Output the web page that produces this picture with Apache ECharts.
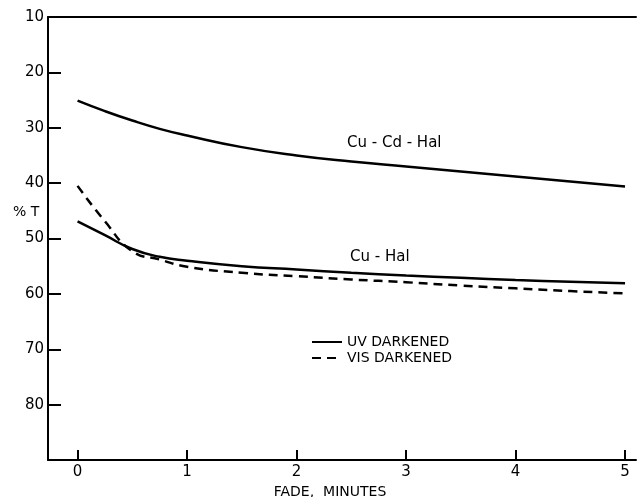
<!DOCTYPE html>
<html>
<head>
<meta charset="utf-8">
<script src="https://cdn.jsdelivr.net/npm/echarts@6/dist/echarts.min.js"></script>
<style>html,body{margin:0;padding:0;background:#fff}#c{width:641px;height:497px}</style>
</head>
<body>
<div id="c"></div>
<script>
// ---- data ----
var minutes     = [0, 0.25, 0.5, 0.75, 1, 1.5, 2, 2.5, 3, 3.5, 4, 4.5, 5];
var cuCdHalUV   = [25.1, 27.0, 28.7, 30.2, 31.4, 33.5, 35.0, 36.1, 37.0, 37.9, 38.8, 39.7, 40.6];
var cuHalUV     = [46.9, 49.4, 51.9, 53.3, 54.0, 55.0, 55.6, 56.2, 56.7, 57.1, 57.5, 57.8, 58.1];
var cuHalVIS    = [40.5, 46.9, 52.3, 53.8, 55.1, 56.2, 56.8, 57.4, 57.9, 58.5, 59.0, 59.5, 59.9];
var xTicks      = [0, 1, 2, 3, 4, 5];
var yTicks      = [20, 30, 40, 50, 60, 70, 80];
var yLabels     = [10, 20, 30, 40, 50, 60, 70, 80];
var curveNames  = ['Cu - Cd - Hal', 'Cu - Hal'];
var legendNames = ['UV DARKENED', 'VIS DARKENED'];

function pairs(xs, ys) { return xs.map(function (x, i) { return [x, ys[i]]; }); }

var FONT = 'DejaVu Sans';
var chart = echarts.init(document.getElementById('c'), null, {renderer: 'canvas'});
chart.setOption({
  animation: false,
  backgroundColor: '#fff',
  grid: {left: 48, right: 5, top: 17, bottom: 37, outerBoundsMode: 'none', containLabel: false},
  legend: {
    data: legendNames,
    orient: 'vertical',
    left: 306, top: 330,
    itemWidth: 30, itemHeight: 10, itemGap: 2,
    itemStyle: {opacity: 0},
    textStyle: {fontFamily: FONT, fontSize: 14, color: '#000'}
  },
  xAxis: [{
    type: 'value', min: -0.27, max: 5.1,
    name: 'FADE,  MINUTES', nameLocation: 'middle', nameGap: 20,
    nameTextStyle: {fontFamily: FONT, fontSize: 14, color: '#000', padding: [0, 24, 0, 0]},
    axisLine: {show: true, onZero: false, lineStyle: {color: '#000', width: 2}},
    axisTick: {show: true, inside: true, length: 10, customValues: xTicks, lineStyle: {color: '#000', width: 2}},
    axisLabel: {customValues: xTicks, margin: 5, fontFamily: FONT, fontSize: 15, color: '#000'},
    splitLine: {show: false}
  }, {
    type: 'value', position: 'top', min: -0.27, max: 5.1,
    axisLine: {show: true, lineStyle: {color: '#000', width: 2}},
    axisTick: {show: false}, axisLabel: {show: false}, splitLine: {show: false}
  }],
  yAxis: {
    type: 'value', inverse: true, min: 10, max: 90, interval: 10,
    axisLine: {show: true, onZero: false, lineStyle: {color: '#000', width: 2}},
    axisTick: {show: true, inside: true, length: 13, customValues: yTicks, lineStyle: {color: '#000', width: 2}},
    axisLabel: {customValues: yLabels, margin: 4, fontFamily: FONT, fontSize: 15, color: '#000'},
    splitLine: {show: false}
  },
  series: [{
    name: legendNames[0], type: 'line', smooth: 0.5, symbol: 'none',
    data: pairs(minutes, cuCdHalUV),
    lineStyle: {color: '#000', width: 2.5}, itemStyle: {color: '#000'}
  }, {
    name: legendNames[0], type: 'line', smooth: 0.5, symbol: 'none',
    data: pairs(minutes, cuHalUV),
    lineStyle: {color: '#000', width: 2.5}, itemStyle: {color: '#000'}
  }, {
    name: legendNames[1], type: 'line', smooth: 0.5, symbol: 'none',
    data: pairs(minutes, cuHalVIS),
    lineStyle: {color: '#000', width: 2.5, type: [9, 6]}, itemStyle: {color: '#000'}
  }],
  graphic: [
    {type: 'text', left: 347, top: 136, style: {text: curveNames[0], fontFamily: FONT, fontSize: 15, fill: '#000'}},
    {type: 'text', left: 350, top: 250, style: {text: curveNames[1], fontFamily: FONT, fontSize: 15, fill: '#000'}},
    {type: 'text', left: 13, top: 205, style: {text: '% T', fontFamily: FONT, fontSize: 14, fill: '#000'}}
  ]
});
</script>
</body>
</html>
